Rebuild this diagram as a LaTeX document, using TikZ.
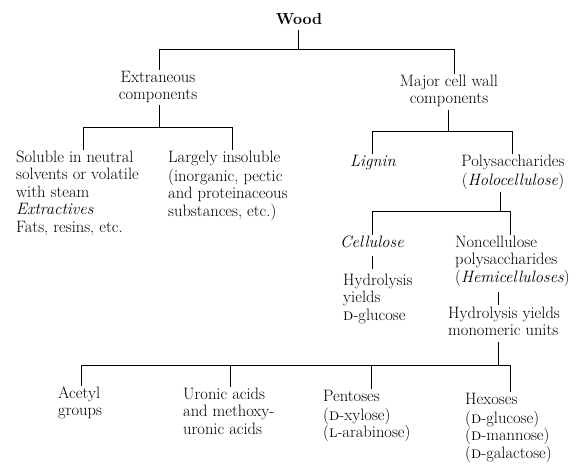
\documentclass[tikz,border=0pt]{standalone}
\begin{document}
\begin{tikzpicture}[x=1pt,y=-1pt]
\tikzset{
  lbl/.style={inner sep=0pt, font=\fontsize{16.5}{17.5}\selectfont, anchor=north},
  lblL/.style={lbl, align=left, anchor=north west},
  lblC/.style={lbl, align=center},
  conn/.style={line width=0.8pt, black}
}
\fill[white] (0,0) rectangle (583,463);
\useasboundingbox (0,0) rectangle (583,463);

% nodes
\node[lblC, font=\fontsize{16}{17.5}\selectfont\bfseries] (wood) at (299,12) {\strut Wood};
\node[lblC] (extr) at (158,70) {\strut Extraneous\\components};
\node[lblC] (major) at (449,74) {\strut Major cell wall\\components};
\node[lblL] (sol) at (16,150) {\strut Soluble in neutral\\solvents or volatile\\with steam\\\textit{Extractives}\\Fats, resins, etc.};
\node[lblL] (insol) at (168,150) {\strut Largely insoluble\\(inorganic, pectic\\and proteinaceous\\substances, etc.)};
\node[lblC] (lignin) at (373,154) {\strut\textit{Lignin}};
\node[lblC] (poly) at (513,154) {\strut Polysaccharides\\(\textit{Holocellulose})};
\node[lblC] (cell) at (372,235) {\strut\textit{Cellulose}};
\node[lblL] (hydc) at (343,273) {\strut Hydrolysis\\yields\\\textsc{d}-glucose};
\node[lblL] (noncell) at (455,235) {\strut Noncellulose\\polysaccharides\\(\textit{Hemicelluloses})};
\node[lblL] (hydm) at (448,306) {\strut Hydrolysis yields\\monomeric units};
\node[lblL] (acetyl) at (58,386) {\strut Acetyl\\groups};
\node[lblL] (uronic) at (183,387) {\strut Uronic acids\\and methoxy-\\uronic acids};
\node[lblL] (pent) at (323,389) {\strut Pentoses\\(\textsc{d}-xylose)\\(\textsc{l}-arabinose)};
\node[lblL] (hex) at (465,392) {\strut Hexoses\\(\textsc{d}-glucose)\\(\textsc{d}-mannose)\\(\textsc{d}-galactose)};

% junctions
\coordinate (j1) at (298,49);  \coordinate (j1l) at (159,49);  \coordinate (j1r) at (454,49);
\coordinate (j2) at (159,127); \coordinate (j2l) at (83,127);  \coordinate (j2r) at (232,127);
\coordinate (j3) at (448,131); \coordinate (j3l) at (372,131); \coordinate (j3r) at (512,131);
\coordinate (j4) at (500,211); \coordinate (j4l) at (372,211); \coordinate (j4r) at (510,211);
\coordinate (j5) at (498,365); \coordinate (j5l) at (81,365);  \coordinate (j5u) at (230,365);
\coordinate (j5p) at (371,365); \coordinate (j5r) at (510,365);

% Wood
\draw[conn] (wood.south -| j1) -- (j1);
\draw[conn] (j1l) -- (j1r);
\draw[conn] (j1l) -- (j1l |- extr.north);
\draw[conn] (j1r) -- (j1r |- major.north);
% Extraneous
\draw[conn, shorten <=2pt] (extr.south -| j2) -- (j2);
\draw[conn] (j2l) -- (j2r);
\draw[conn] (j2l) -- (j2l |- sol.north);
\draw[conn] (j2r) -- (j2r |- insol.north);
% Major
\draw[conn, shorten <=3pt] (major.south -| j3) -- (j3);
\draw[conn] (j3l) -- (j3r);
\draw[conn] (j3l) -- (j3l |- lignin.north);
\draw[conn] (j3r) -- (j3r |- poly.north);
% Polysaccharides
\draw[conn, shorten <=3pt] (poly.south -| j4) -- (j4);
\draw[conn] (j4l) -- (j4r);
\draw[conn] (j4l) -- (j4l |- cell.north);
\draw[conn] (j4r) -- (j4r |- noncell.north);
% Cellulose -> hydrolysis
\draw[conn, shorten <=3pt, shorten >=4pt] (cell.south) -- (cell.south |- hydc.north);
% Noncellulose -> hydrolysis
\draw[conn, shorten <=5pt, shorten >=1pt] (noncell.south -| j5) -- (j5 |- hydm.north);
% Hydrolysis -> units
\draw[conn, shorten <=6pt] (hydm.south -| j5) -- (j5);
\draw[conn] (j5l) -- (j5r);
\draw[conn] (j5l) -- (j5l |- acetyl.north);
\draw[conn] (j5u) -- (j5u |- uronic.north);
\draw[conn] (j5p) -- (j5p |- pent.north);
\draw[conn] (j5r) -- (j5r |- hex.north);
\end{tikzpicture}
\end{document}
